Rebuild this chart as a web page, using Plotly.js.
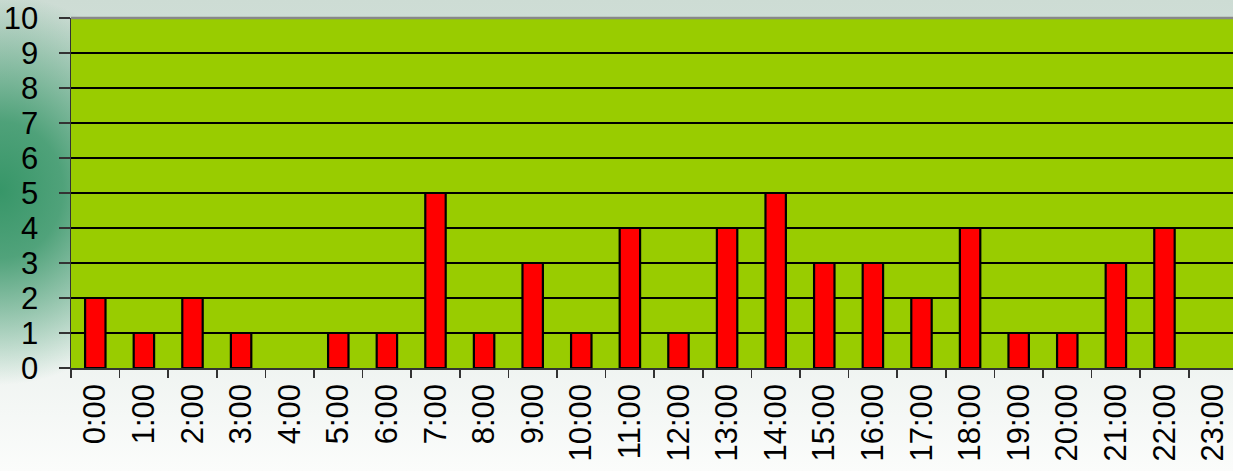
<!DOCTYPE html>
<html>
<head>
<meta charset="utf-8">
<script src="https://cdn.plot.ly/plotly-3.0.1.min.js"></script>
<style>
  html, body { margin:0; padding:0; width:1233px; height:471px; overflow:hidden; }
  #bg { position:absolute; left:0; top:0; width:1233px; height:471px;
    background:
      radial-gradient(ellipse 180px 195px at 0px 190px, rgba(55,150,104,1) 0%, rgba(55,150,104,0.85) 35%, rgba(55,150,104,0.4) 70%, rgba(55,150,104,0) 100%),
      linear-gradient(to bottom, #cddcd4 0%, #d9e4de 35%, #eef3f0 75%, #fbfcfb 100%);
  }
  #chart { position:absolute; left:0; top:0; width:1233px; height:471px; }
</style>
</head>
<body>
<div id="bg"></div>
<div id="chart"></div>
<script>
const hours = ["0:00","1:00","2:00","3:00","4:00","5:00","6:00","7:00","8:00","9:00","10:00","11:00",
               "12:00","13:00","14:00","15:00","16:00","17:00","18:00","19:00","20:00","21:00","22:00","23:00"];
const counts = [2,1,2,1,0,1,1,5,1,3,1,4,1,4,5,3,3,2,4,1,1,3,4,0];
const yTicks = [0,1,2,3,4,5,6,7,8,9,10];

const trace = {
  type: 'bar',
  x: hours,
  y: counts,
  width: 0.42,
  marker: { color: '#FF0000', line: { color: '#000000', width: counts.map(c => c > 0 ? 2.2 : 0) } },
  hoverinfo: 'x+y'
};

const layout = {
  width: 1233, height: 471,
  margin: { l: 71, r: 0, t: 18, b: 103, pad: 0 },
  paper_bgcolor: 'rgba(0,0,0,0)',
  plot_bgcolor: '#99CC00',
  showlegend: false,
  font: { family: 'Liberation Sans, Arial, sans-serif', color: '#000' },
  xaxis: {
    type: 'category',
    categoryorder: 'array', categoryarray: hours,
    range: [-0.5, 23.41],
    tickangle: -90,
    tickson: 'boundaries',
    ticks: 'outside', ticklen: 8, tickwidth: 1.5, tickcolor: '#333',
    showline: true, linecolor: '#333', linewidth: 1.5,
    showgrid: false, zeroline: false,
    ticklabelstandoff: 2,
    tickfont: { size: 31, color: '#000' },
    fixedrange: true
  },
  yaxis: {
    range: [0, 10],
    tickvals: yTicks,
    ticktext: yTicks.map(String),
    ticks: 'outside', ticklen: 11, tickwidth: 1.5, tickcolor: '#333',
    showline: true, linecolor: '#333', linewidth: 1.5,
    showgrid: true, gridcolor: '#000', gridwidth: 1.5,
    zeroline: false,
    ticklabelstandoff: 14,
    tickfont: { size: 31, color: '#000' },
    fixedrange: true
  },
  shapes: [{
    type: 'line', xref: 'paper', yref: 'paper', x0: 0, x1: 1, y0: 1, y1: 1,
    line: { color: '#888888', width: 2.5 }, layer: 'above'
  }]
};

Plotly.newPlot('chart', [trace], layout, { displayModeBar: false, staticPlot: true });
</script>
</body>
</html>
